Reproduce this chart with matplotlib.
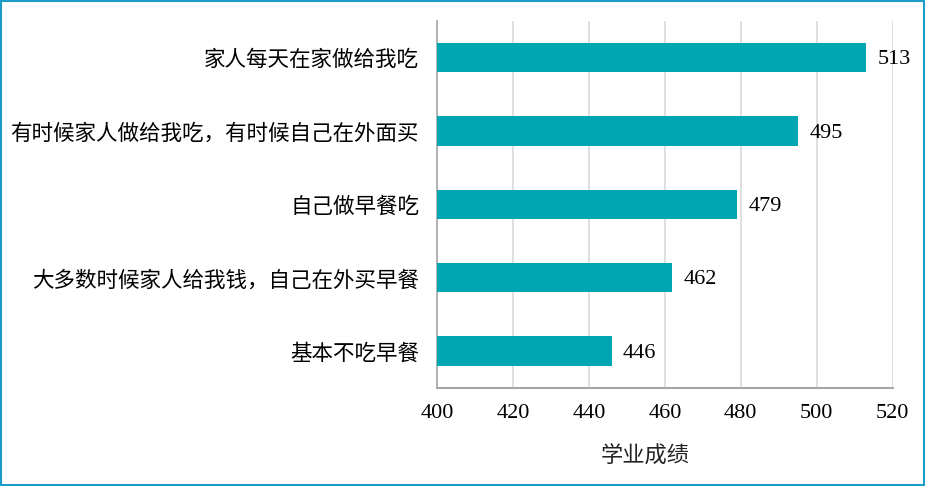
import matplotlib
matplotlib.use("Agg")
import matplotlib.pyplot as plt
from matplotlib.patches import Rectangle

# 数据
categories = [
    "家人每天在家做给我吃",
    "有时候家人做给我吃，有时候自己在外面买",
    "自己做早餐吃",
    "大多数时候家人给我钱，自己在外买早餐",
    "基本不吃早餐",
]
scores = [513, 495, 479, 462, 446]
xticks = [400, 420, 440, 460, 480, 500, 520]

BAR = "#00A6B2"
GRID = "#d9d9d9"
AXIS = "#a6a6a6"
BORDER = "#1a9cc9"
CJK = ["Noto Sans CJK SC", "DejaVu Sans"]
SERIF = "Liberation Serif"

fig = plt.figure(figsize=(9.26, 4.86), dpi=100)
ax = fig.add_axes([0.472, 0.202, 0.492, 0.755])

ypos = list(range(len(categories)))[::-1]
ax.barh(ypos, [s - 400 for s in scores], left=400, height=0.4, color=BAR, zorder=3)

for y, s in zip(ypos, scores):
    ax.text(s + 3.0, y - 0.03, f"{s}", va="center", ha="left",
            fontsize=16, family=SERIF, color="black")

ax.set_xlim(400, 520)
ax.set_ylim(-0.5, len(categories) - 0.5)
ax.set_xticks(xticks)
ax.set_xticklabels([str(t) for t in xticks], family=SERIF, fontsize=16)
ax.set_yticks(ypos)
ax.set_yticklabels(categories, family=CJK, fontsize=15.5)
ax.tick_params(axis="y", length=0, pad=13)
ax.tick_params(axis="x", length=0, pad=12)

ax.grid(axis="x", color=GRID, linewidth=1.2, zorder=0)
for side in ["top", "right"]:
    ax.spines[side].set_visible(False)
ax.spines["left"].set_color(AXIS)
ax.spines["bottom"].set_color(AXIS)
ax.spines["left"].set_linewidth(1.2)
ax.spines["bottom"].set_linewidth(1.5)

ax.set_xlabel("学业成绩", family=CJK, fontsize=16, color="#222222")
ax.xaxis.set_label_coords(0.456, -0.155)

# 外框
fig.patches.append(Rectangle((0.001, 0.002), 0.997, 0.995, transform=fig.transFigure,
                             fill=False, edgecolor=BORDER, linewidth=1.5))

plt.savefig("out.png", dpi=100, facecolor="white")
plt.close()
